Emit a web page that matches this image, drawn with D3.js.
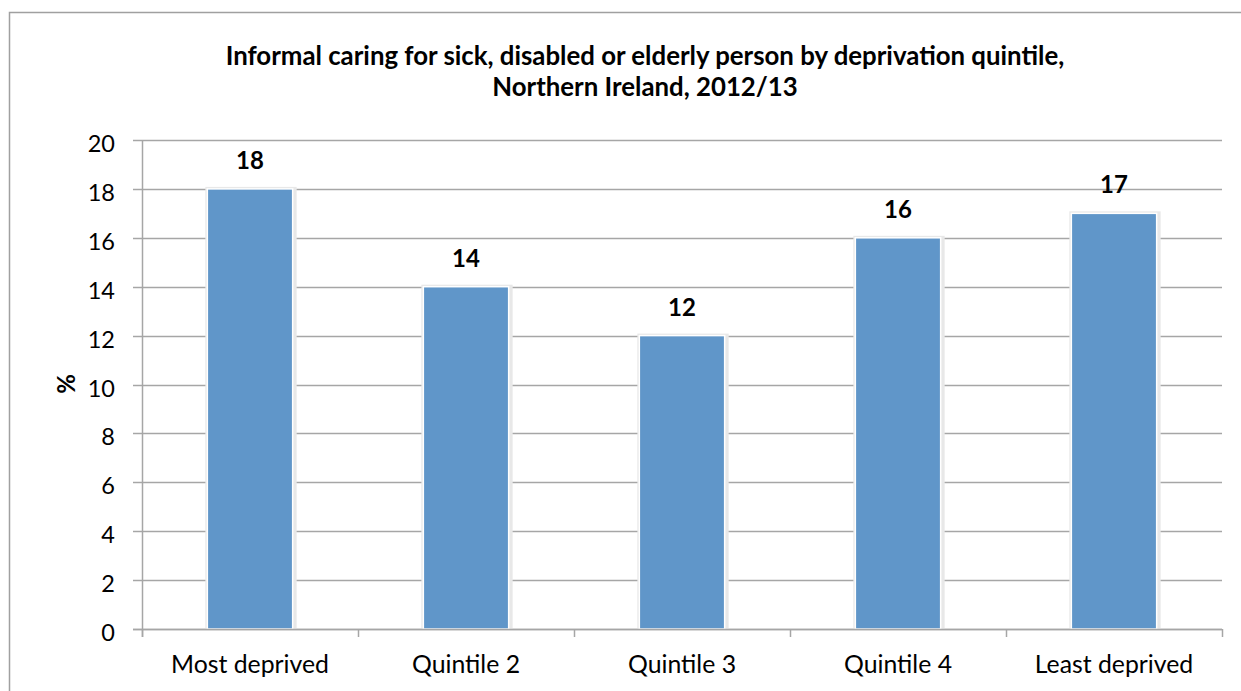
<!DOCTYPE html>
<html>
<head>
<meta charset="utf-8">
<script src="https://cdn.jsdelivr.net/npm/d3@7"></script>
<style>
  html, body { margin: 0; padding: 0; background: #fff; }
  svg { display: block; font-family: Lato, "Open Sans", sans-serif; }
</style>
</head>
<body>
<div id="chart"></div>
<script>
// data
const categories = ["Most deprived", "Quintile 2", "Quintile 3", "Quintile 4", "Least deprived"];
const values = [18, 14, 12, 16, 17];
const yTicks = [0, 2, 4, 6, 8, 10, 12, 14, 16, 18, 20];
const titleLines = [
  "Informal caring for sick, disabled or elderly person by deprivation quintile,",
  "Northern Ireland, 2012/13"
];
const yLabel = "%";

const width = 1241;
const height = 691;
const marginLeft = 142;
const marginRight = 19;
const marginTop = 140;
const marginBottom = 62;

const svg = d3.select("#chart").append("svg")
  .attr("width", width)
  .attr("height", height);

// outer frame (runs off the right and bottom of the picture)
svg.append("rect")
  .attr("x", 9.5).attr("y", 12.5)
  .attr("width", width + 20).attr("height", height + 20)
  .attr("fill", "#fff")
  .attr("stroke", "#a0a0a0")
  .attr("stroke-width", 1.5);

const x = d3.scaleBand()
  .domain(categories)
  .range([marginLeft, width - marginRight])
  .padding(0);

const y = d3.scaleLinear()
  .domain([0, 20])
  .range([height - marginBottom, marginTop]);

const barWidth = x.bandwidth() * 0.395;

// gridlines
svg.append("g")
  .selectAll("line")
  .data(yTicks)
  .join("line")
  .attr("x1", marginLeft - 9)
  .attr("x2", width - marginRight)
  .attr("y1", d => Math.round(y(d)) + 0.5)
  .attr("y2", d => Math.round(y(d)) + 0.5)
  .attr("stroke", "#a6a6a6")
  .attr("stroke-width", 1.5);

// y tick labels
svg.append("g")
  .selectAll("text")
  .data(yTicks)
  .join("text")
  .attr("x", marginLeft - 27)
  .attr("y", d => y(d) + 12)
  .attr("text-anchor", "end")
  .attr("font-size", 23.5)
  .attr("fill", "#000")
  .text(d => d);

// y axis line
svg.append("line")
  .attr("x1", marginLeft + 0.5).attr("x2", marginLeft + 0.5)
  .attr("y1", y(20)).attr("y2", y(0) + 8)
  .attr("stroke", "#a6a6a6")
  .attr("stroke-width", 1.5);

// x tick marks at band boundaries
const bounds = categories.map(c => x(c)).concat([x.range()[1]]);
svg.append("g")
  .selectAll("line")
  .data(bounds)
  .join("line")
  .attr("x1", d => Math.round(d) + 0.5)
  .attr("x2", d => Math.round(d) + 0.5)
  .attr("y1", y(0))
  .attr("y2", y(0) + 8)
  .attr("stroke", "#a6a6a6")
  .attr("stroke-width", 1.5);

// bar shadows
svg.append("g")
  .selectAll("rect")
  .data(values)
  .join("rect")
  .attr("x", (d, i) => x(categories[i]) + (x.bandwidth() - barWidth) / 2 - 2)
  .attr("y", d => y(d) - 2)
  .attr("width", barWidth + 6)
  .attr("height", d => y(0) - y(d) + 2)
  .attr("fill", "#e8e8e8");

// bars
svg.append("g")
  .selectAll("rect")
  .data(values)
  .join("rect")
  .attr("x", (d, i) => x(categories[i]) + (x.bandwidth() - barWidth) / 2)
  .attr("y", d => y(d))
  .attr("width", barWidth)
  .attr("height", d => y(0) - y(d))
  .attr("fill", "#6096c9")
  .attr("stroke", "#fff")
  .attr("stroke-width", 1.5);

// x axis baseline on top of bars
svg.append("line")
  .attr("x1", marginLeft - 9).attr("x2", width - marginRight)
  .attr("y1", Math.round(y(0)) + 0.5).attr("y2", Math.round(y(0)) + 0.5)
  .attr("stroke", "#a6a6a6")
  .attr("stroke-width", 1.5);

// value labels
svg.append("g")
  .selectAll("text")
  .data(values)
  .join("text")
  .attr("x", (d, i) => x(categories[i]) + x.bandwidth() / 2)
  .attr("y", d => y(d) - 20)
  .attr("text-anchor", "middle")
  .attr("font-size", 24)
  .attr("font-weight", "bold")
  .attr("fill", "#000")
  .text(d => d);

// category labels
svg.append("g")
  .selectAll("text")
  .data(categories)
  .join("text")
  .attr("x", d => x(d) + x.bandwidth() / 2)
  .attr("y", y(0) + 44)
  .attr("text-anchor", "middle")
  .attr("font-size", 24.8)
  .attr("fill", "#000")
  .text(d => d);

// y label
svg.append("text")
  .attr("transform", `translate(${75},${384}) rotate(-90)`)
  .attr("text-anchor", "middle")
  .attr("font-size", 24)
  .attr("font-weight", "bold")
  .text(yLabel);

// title
svg.append("g")
  .selectAll("text")
  .data(titleLines)
  .join("text")
  .attr("x", 645)
  .attr("y", (d, i) => 65 + i * 31)
  .attr("text-anchor", "middle")
  .attr("font-size", 25.8)
  .attr("font-weight", "bold")
  .text(d => d);
</script>
</body>
</html>
